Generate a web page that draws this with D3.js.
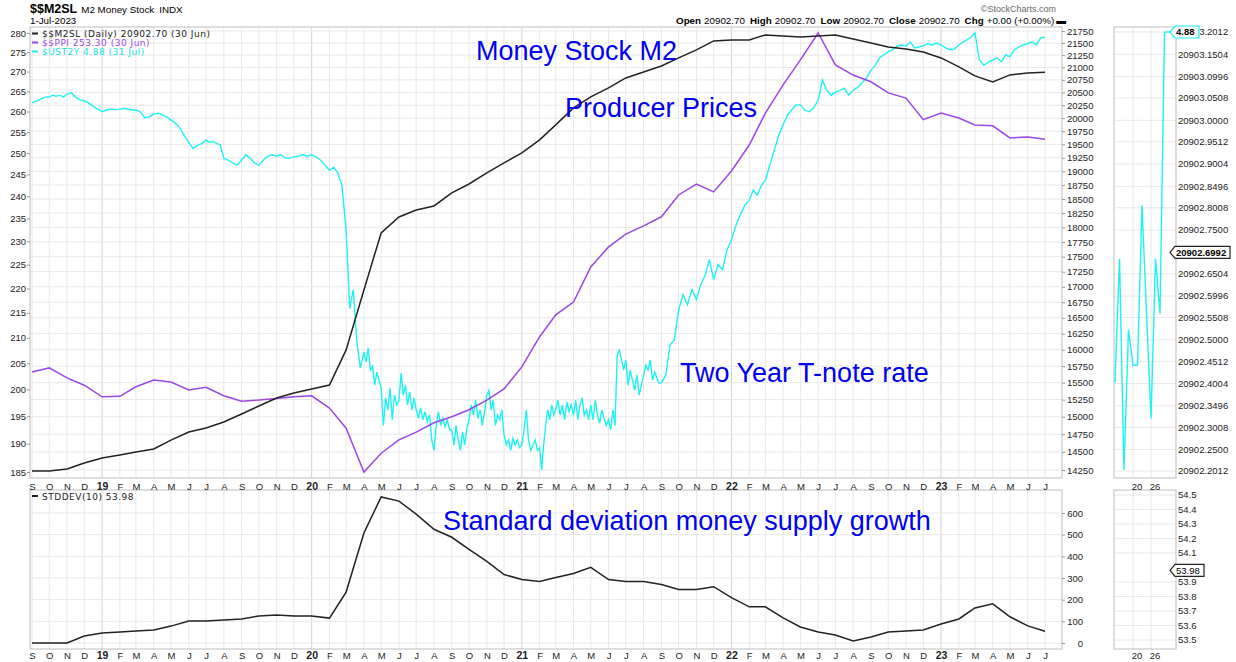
<!DOCTYPE html>
<html>
<head>
<meta charset="utf-8">
<script src="https://cdn.jsdelivr.net/npm/d3@7"></script>
<style>
  body { margin: 0; background: #fff; }
  svg { display: block; font-family: "Liberation Sans", Arial, sans-serif; }
  .ax text { font-size: 9.5px; fill: #222; }
  .ax line { stroke: #999; }
  .ax path { display: none; }
  .lg { font-family: "DejaVu Sans", Verdana, sans-serif; font-size: 9px; letter-spacing: 0.5px; }
  .note { font-size: 27px; fill: #0000ee; }
</style>
</head>
<body>
<svg width="1236" height="662"></svg>
<script>
// ---- data (monthly, Sep 2018 .. Jul 2023) ----
var monthLetters = ["J","F","M","A","M","J","J","A","S","O","N","D"];

var m2 = [14236, 14236, 14264, 14346,
  14415, 14457, 14499, 14541, 14666, 14782, 14839, 14924, 15040, 15156, 15273, 15347,
  15407, 15466, 15997, 16949, 17905, 18183, 18306, 18377, 18609, 18770, 18970, 19154,
  19340, 19585, 19870, 20197, 20412, 20590, 20788, 20909, 21030, 21193, 21357, 21543,
  21564, 21564, 21668, 21647, 21626, 21647, 21668, 21584, 21502, 21418, 21378, 21316,
  21193, 21010, 20829, 20709, 20849, 20890, 20902.7];

var ppi = [203.3, 204.1, 202.2, 200.8,
  198.6, 198.7, 200.5, 201.8, 201.4, 199.9, 200.4, 198.8, 197.8, 198.0, 198.3, 198.6,
  198.8, 196.5, 192.8, 185.0, 188.3, 190.7, 192.1, 193.8, 194.9, 196.2, 198.0, 200.1,
  204.3, 210.2, 214.6, 217.2, 224.5, 228.8, 231.6, 233.4, 235.4, 240.3, 242.8, 241.0,
  245.8, 251.9, 259.6, 266.6, 273.0, 280.0, 271.7, 269.1, 267.4, 264.6, 263.3, 258.0,
  259.6, 258.4, 256.7, 256.5, 253.6, 253.8, 253.3];

var stddev = [0, 0, 0, 32,
  46, 51, 55, 60, 78, 101, 101, 106, 111, 125, 129, 125,
  125, 115, 235, 508, 674, 655, 595, 525, 488, 432, 377, 316,
  293, 284, 302, 321, 349, 293, 284, 284, 270, 247, 247, 260,
  209, 167, 167, 116, 74, 51, 37, 9, 28, 51, 55, 60,
  88, 111, 162, 181, 121, 79, 53.98];

// 2 year note readings grouped by month (weekly, twice weekly in 2020-21)
var ust2y = [
  [2.73,2.77,2.82,2.87], [2.87,2.92,2.89,2.92,2.87], [2.95,2.98,2.87,2.80], [2.78,2.72,2.65,2.58],
  [2.52,2.56,2.58,2.57], [2.58,2.60,2.58,2.56], [2.56,2.52,2.39,2.41], [2.47,2.49,2.45,2.41],
  [2.34,2.28,2.18,2.04], [1.92,1.82,1.87,1.90], [1.96,1.92,1.94,1.90,1.88], [1.67,1.64,1.60,1.57],
  [1.64,1.72,1.67,1.60], [1.57,1.64,1.70,1.72], [1.70,1.72,1.67,1.67], [1.69,1.70,1.72,1.70],
  [1.72,1.69,1.64,1.57], [1.50,1.54,1.47,1.31], [0.88,0.44,0.52,0.33,0.26],
  [0.299,0.274,0.310,0.255,0.264,0.223,0.250,0.233],
  [0.217,0.156,0.199,0.179,0.217,0.164,0.204,0.187],
  [0.195,0.248,0.204,0.223,0.187,0.210,0.179,0.199],
  [0.179,0.166,0.182,0.164,0.176,0.161,0.171,0.137],
  [0.125,0.156,0.176,0.156,0.166,0.154,0.164,0.150],
  [0.150,0.131,0.156,0.137,0.125,0.147,0.131,0.152],
  [0.164,0.187,0.171,0.195,0.166,0.179,0.156,0.176],
  [0.204,0.213,0.179,0.195,0.156,0.171,0.164,0.179],
  [0.143,0.131,0.137,0.125,0.139,0.131,0.137,0.128],
  [0.131,0.150,0.179,0.137,0.125,0.131,0.137,0.125],
  [0.128,0.105,0.131,0.156,0.179,0.164,0.187,0.171],
  [0.179,0.195,0.171,0.187,0.164,0.192,0.176,0.187],
  [0.171,0.195,0.164,0.187,0.199,0.171,0.179,0.164],
  [0.187,0.164,0.195,0.171,0.159,0.179,0.166,0.156],
  [0.164,0.150,0.179,0.156,0.291,0.304,0.279,0.255],
  [0.279,0.223,0.255,0.233,0.213,0.244,0.204,0.223],
  [0.244,0.266,0.255,0.279,0.233,0.250,0.237,0.227],
  [0.228,0.243,0.318,0.333], [0.435,0.497,0.455,0.52], [0.476,0.543,0.59,0.68], [0.568,0.65,0.62,0.74],
  [0.81,0.92,1.01,1.10], [1.15,1.26,1.20,1.31], [1.37,1.57,1.79,2.04], [2.24,2.45,2.56,2.68],
  [2.68,2.56,2.52,2.61], [2.79,3.34,3.05,2.92], [3.00,3.05,3.11,2.92], [3.05,3.13,3.26,3.40],
  [3.65,3.81,4.07,4.18], [4.29,4.37,4.52,4.56], [4.52,4.68,4.44,4.48], [4.52,4.61,4.56,4.64],
  [4.56,4.44,4.37,4.40], [4.56,4.68,4.77,4.89], [5.07,3.99,3.81,3.92], [3.99,4.07,3.92,4.18],
  [4.11,4.37,4.48,4.56], [4.61,4.68,4.56,4.85], [4.88]
];

var leftTicks = [185,190,195,200,205,210,215,220,225,230,235,240,245,250,255,260,265,270,275,280];
var rightTicks = [14250,14500,14750,15000,15250,15500,15750,16000,16250,16500,16750,17000,17250,17500,
  17750,18000,18250,18500,18750,19000,19250,19500,19750,20000,20250,20500,20750,21000,21250,21500,21750];
var lowTicks = [0,100,200,300,400,500,600];

// side (last days) panel
var sideDays = [0,1,2,3,4,5,6,8,9,10,11];
var sideVals = [4.656,4.735,4.60,4.69,4.667,4.667,4.769,4.633,4.735,4.70,4.88];
var sideTicks = ["20903.2012","20903.1504","20903.0996","20903.0508","20903.0000","20902.9512","20902.9004",
  "20902.8496","20902.8008","20902.7500","20902.6504","20902.5996","20902.5508","20902.5000","20902.4512",
  "20902.4004","20902.3496","20902.3008","20902.2500","20902.2012"];
var sideLowTicks = ["54.5","54.4","54.3","54.2","54.1","53.9","53.8","53.7","53.6","53.5"];

// ---- layout ----
var svg = d3.select("svg");
var L = 30, R = 1062, T = 27, B = 478, T2 = 490, B2 = 649;
var SL = 1114, SR = 1176;

var months = d3.timeMonth.range(new Date(2018, 8, 1), new Date(2023, 7, 1));

var x = d3.scaleTime().domain([months[0], months[months.length - 1]]).range([32, 1045]);
var yL = d3.scaleLog().domain([185, 280]).range([472, 33]);
var yR = d3.scaleLog().domain([14250, 21750]).range([470, 31]);
var yU = d3.scaleLog().domain([0.105, 5.07]).range([470, 33]);
var yS = d3.scaleLinear().domain([0, 600]).range([643, 513]);

var xs = d3.scaleLinear().domain([0, 11]).range([1115, 1164.5]);
var ys = d3.scaleLinear().domain(d3.extent(sideVals)).range([470, 32]);
var ysAx = d3.scaleLinear().domain([20902.2012, 20903.2012]).range([471, 32]);
var ysLow = d3.scaleLinear().domain([53.5, 54.5]).range([640, 495]);

// ---- grids ----
function vgrid(y0, y1) {
  svg.append("g").selectAll("line").data(months).enter().append("line")
    .attr("x1", d => x(d)).attr("x2", d => x(d))
    .attr("y1", y0).attr("y2", y1)
    .attr("stroke", d => d.getMonth() === 0 ? "#d2d2d2" : "#e8e8e8");
}
vgrid(T, B);
vgrid(T2, B2);

svg.append("g").selectAll("line").data(rightTicks).enter().append("line")
  .attr("x1", L).attr("x2", R).attr("y1", d => yR(d)).attr("y2", d => yR(d))
  .attr("stroke", "#e8e8e8");
svg.append("g").selectAll("line").data(lowTicks).enter().append("line")
  .attr("x1", L).attr("x2", R).attr("y1", d => yS(d)).attr("y2", d => yS(d))
  .attr("stroke", "#e8e8e8");

// side grids
svg.append("g").selectAll("line").data(sideTicks).enter().append("line")
  .attr("x1", SL).attr("x2", SR).attr("y1", d => ysAx(+d)).attr("y2", d => ysAx(+d))
  .attr("stroke", "#e8e8e8");
svg.append("g").selectAll("line").data(sideLowTicks).enter().append("line")
  .attr("x1", SL).attr("x2", SR).attr("y1", d => ysLow(+d)).attr("y2", d => ysLow(+d))
  .attr("stroke", "#e8e8e8");
[4, 8].forEach(function (i) {
  svg.append("line").attr("x1", xs(i)).attr("x2", xs(i)).attr("y1", T).attr("y2", B).attr("stroke", "#e8e8e8");
  svg.append("line").attr("x1", xs(i)).attr("x2", xs(i)).attr("y1", T2).attr("y2", B2).attr("stroke", "#e8e8e8");
});

// frames
[[L, T, R - L, B - T], [L, T2, R - L, B2 - T2], [SL, T, SR - SL, B - T], [SL, T2, SR - SL, B2 - T2]].forEach(function (r) {
  svg.append("rect").attr("x", r[0]).attr("y", r[1]).attr("width", r[2]).attr("height", r[3])
    .attr("fill", "none").attr("stroke", "#bdbdbd");
});

// ---- series ----
var ustPts = [];
ust2y.forEach(function (vals, i) {
  var t0 = months[i].getTime();
  var t1 = i + 1 < months.length ? months[i + 1].getTime() : t0;
  vals.forEach(function (v, j) {
    ustPts.push({ date: new Date(t0 + (t1 - t0) * j / vals.length), v: v });
  });
});

svg.append("path").datum(ustPts)
  .attr("fill", "none").attr("stroke", "#1ff2f2").attr("stroke-width", 1.4)
  .attr("d", d3.line().x(d => x(d.date)).y(d => yU(d.v)));

svg.append("path").datum(ppi)
  .attr("fill", "none").attr("stroke", "#9a48e6").attr("stroke-width", 1.5)
  .attr("d", d3.line().x((d, i) => x(months[i])).y(d => yL(d)));

svg.append("path").datum(m2)
  .attr("fill", "none").attr("stroke", "#222").attr("stroke-width", 1.5)
  .attr("d", d3.line().x((d, i) => x(months[i])).y(d => yR(d)));

svg.append("path").datum(stddev)
  .attr("fill", "none").attr("stroke", "#222").attr("stroke-width", 1.5)
  .attr("d", d3.line().x((d, i) => x(months[i])).y(d => yS(d)));

// side panel line
svg.append("path").datum(sideVals)
  .attr("fill", "none").attr("stroke", "#1ff2f2").attr("stroke-width", 1.4)
  .attr("d", d3.line().x((d, i) => xs(sideDays[i])).y(d => ys(d)));
svg.append("line").attr("x1", xs(11)).attr("x2", 1171)
  .attr("y1", ys(4.88)).attr("y2", ys(4.88)).attr("stroke", "#1ff2f2").attr("stroke-width", 1.4);

// ---- axes ----
svg.append("g").attr("class", "ax").attr("transform", "translate(" + L + ",0)")
  .call(d3.axisLeft(yL).tickValues(leftTicks).tickFormat(d3.format("d")).tickSize(3).tickPadding(1));

svg.append("g").attr("class", "ax").attr("transform", "translate(" + R + ",0)")
  .call(d3.axisRight(yR).tickValues(rightTicks).tickFormat(d3.format("d")).tickSize(3).tickPadding(2));

var lowAx = svg.append("g").attr("class", "ax").attr("transform", "translate(" + R + ",0)")
  .call(d3.axisRight(yS).tickValues(lowTicks).tickFormat(d3.format("d")).tickSize(3).tickPadding(2));
lowAx.selectAll("text").attr("text-anchor", "end").attr("x", 21);

function monthLabel(d) {
  return d.getMonth() === 0 ? String(d.getFullYear()).slice(2) : monthLetters[d.getMonth()];
}
[[B, 5], [B2, 3]].forEach(function (p) {
  var g = svg.append("g").attr("class", "ax").attr("transform", "translate(0," + p[0] + ")")
    .call(d3.axisBottom(x).tickValues(months).tickFormat(monthLabel).tickSize(0).tickPadding(p[1]));
  g.selectAll("text").attr("dy", "0.71em")
    .style("font-weight", d => d.getMonth() === 0 ? "bold" : null)
    .style("font-size", d => d.getMonth() === 0 ? "10.5px" : null);
});

// side axes
svg.append("g").attr("class", "ax").selectAll("text").data(sideTicks).enter().append("text")
  .attr("x", SR + 2).attr("y", d => ysAx(+d)).attr("dy", "0.35em").text(d => d);
svg.append("g").attr("class", "ax").selectAll("text").data(sideLowTicks).enter().append("text")
  .attr("x", SR + 2).attr("y", d => ysLow(+d)).attr("dy", "0.35em").text(d => d);
[[B, 12], [B2, 10]].forEach(function (p) {
  svg.append("g").attr("class", "ax").selectAll("text").data([[4, "20"], [8, "26"]]).enter().append("text")
    .attr("x", d => xs(d[0]) + 4).attr("y", p[0] + p[1]).attr("text-anchor", "middle").text(d => d[1]);
});

// value tags
function tag(xx, yy, w, txt, stroke, bold) {
  var g = svg.append("g");
  g.append("path")
    .attr("d", "M" + xx + "," + yy + "l5,-6h" + w + "v12h-" + w + "z")
    .attr("fill", "#fff").attr("stroke", stroke).attr("stroke-width", 1.2);
  g.append("text").attr("x", xx + 6).attr("y", yy).attr("dy", "0.35em")
    .style("font-size", "9.5px").style("font-weight", bold ? "bold" : null).text(txt);
}
tag(1170, ys(4.88), 24, "4.88", "#1ff2f2", true);
tag(1170, ysAx(20902.6992), 55, "20902.6992", "#222", true);
tag(1170, ysLow(53.98), 29, "53.98", "#222", false);

// ---- legends ----
function legend(yy, col, txt) {
  svg.append("rect").attr("x", 32).attr("y", yy - 4).attr("width", 6).attr("height", 2).attr("fill", col);
  svg.append("text").attr("class", "lg").attr("x", 42).attr("y", yy).attr("dy", "0.1em")
    .attr("fill", col === "#1ff2f2" ? "#17e0e0" : col).text(txt);
}
legend(36.5, "#222", "$$M2SL (Daily) 20902.70 (30 Jun)");
legend(45.5, "#9a48e6", "$$PPI 253.30 (30 Jun)");
legend(54.5, "#1ff2f2", "$UST2Y 4.88 (31 Jul)");
legend(499, "#222", "STDDEV(10) 53.98");

// ---- header ----
var hd = svg.append("text").attr("x", 30).attr("y", 13);
hd.append("tspan").style("font-weight", "bold").style("font-size", "12.5px").text("$$M2SL");
hd.append("tspan").attr("dx", 4).style("font-size", "9.8px").text("M2 Money Stock");
hd.append("tspan").attr("dx", 5).style("font-size", "9.8px").text("INDX");
svg.append("text").attr("x", 30).attr("y", 24).style("font-size", "9.8px").text("1-Jul-2023");
svg.append("text").attr("x", 1056).attr("y", 12).attr("text-anchor", "end")
  .style("font-size", "9px").attr("fill", "#666").text("\u00a9StockCharts.com");

var ohlc = [["Open", "20902.70"], ["High", "20902.70"], ["Low", "20902.70"], ["Close", "20902.70"], ["Chg", "+0.00 (+0.00%)"]];
var hq = svg.append("text").attr("x", 1066).attr("y", 24).attr("text-anchor", "end").style("font-size", "9.8px");
ohlc.forEach(function (p, i) {
  hq.append("tspan").attr("dx", i ? 5 : 0).style("font-weight", "bold").text(p[0]);
  hq.append("tspan").attr("dx", 3).text(p[1]);
});
hq.append("tspan").attr("dx", 2).text("\u25ac");

// ---- annotations ----
svg.append("text").attr("class", "note").attr("x", 476).attr("y", 60).text("Money Stock M2");
svg.append("text").attr("class", "note").attr("x", 565).attr("y", 117).text("Producer Prices");
svg.append("text").attr("class", "note").attr("x", 680).attr("y", 382).text("Two Year T-note rate");
svg.append("text").attr("class", "note").attr("x", 443).attr("y", 530).text("Standard deviation money supply growth");
</script>
</body>
</html>
